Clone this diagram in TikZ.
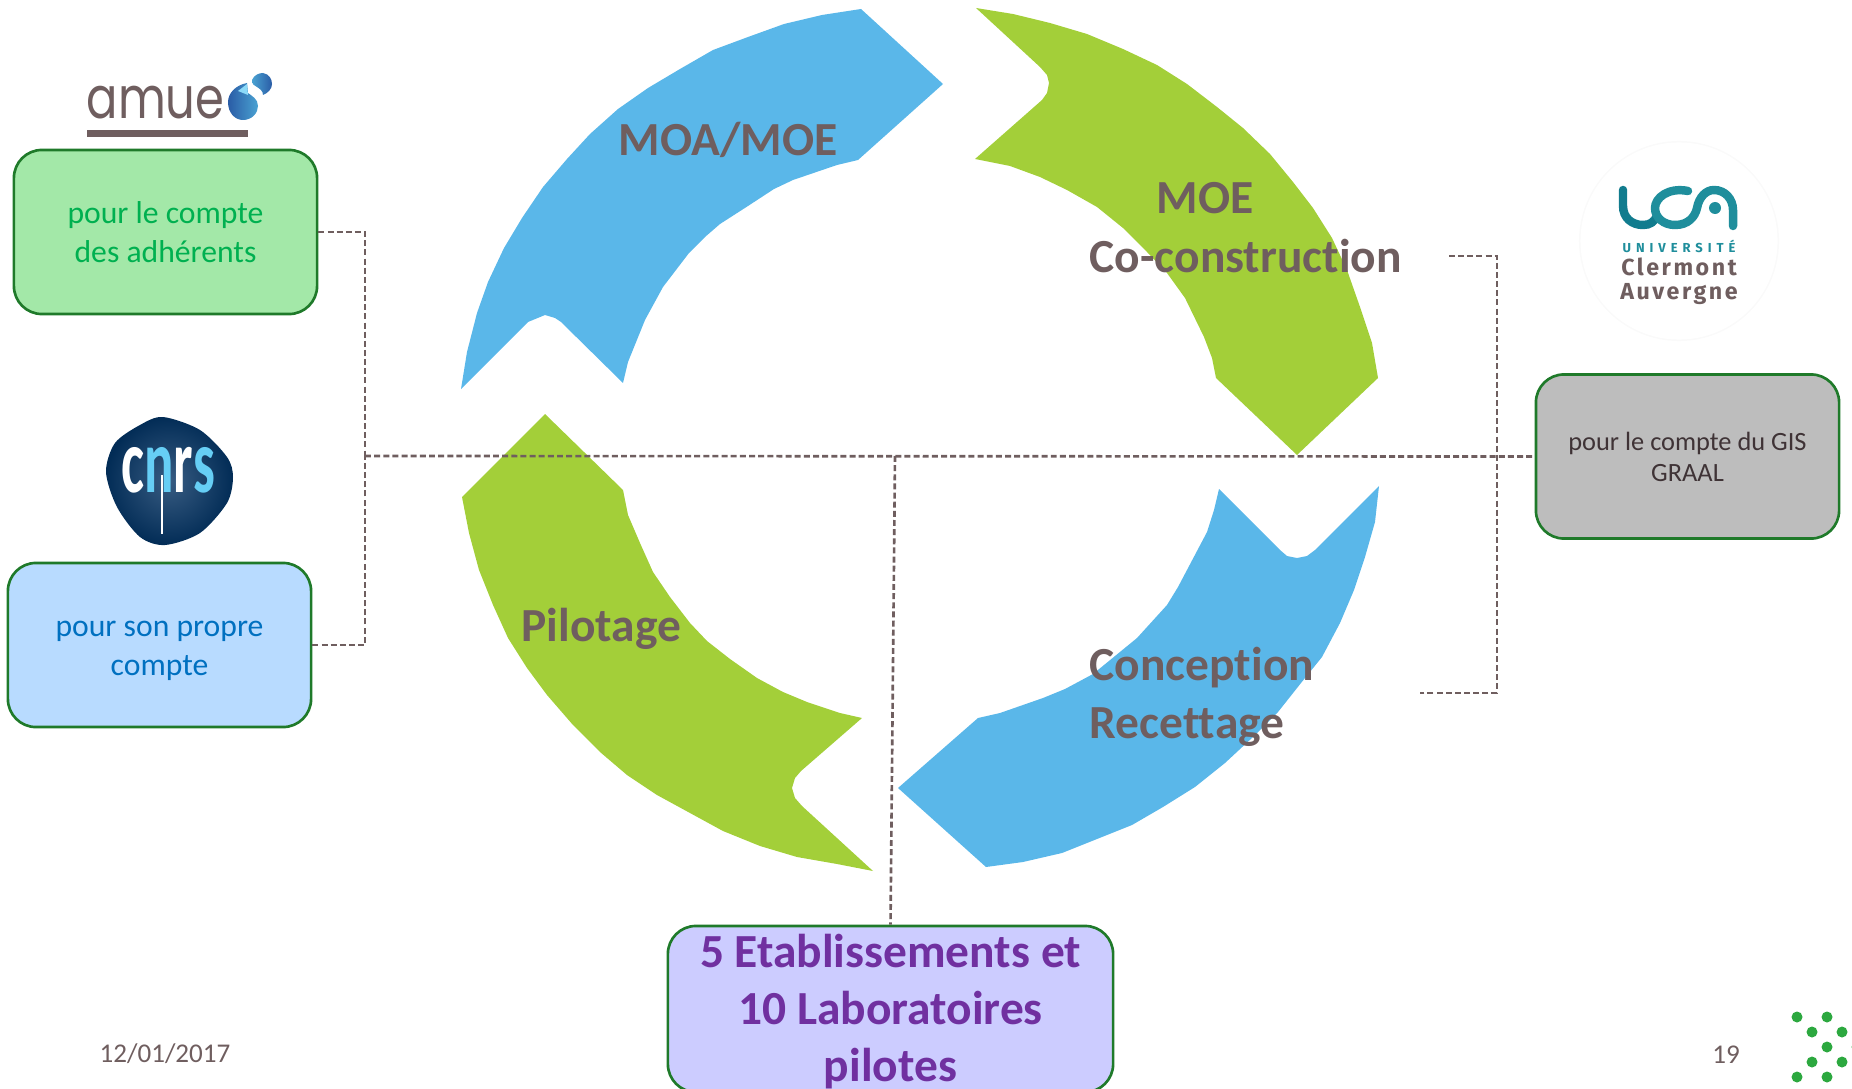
\documentclass[tikz,border=0pt]{standalone}
\usepackage{fontspec}
\setmainfont[Ligatures=NoCommon]{Carlito}
\newfontfamily\logofont{Poppins}
\newfontfamily\ucafont[LetterSpace=11]{Fira Sans}
\newfontfamily\ucawide[LetterSpace=38]{Fira Sans}
\definecolor{arrowblue}{HTML}{5AB7E9}
\definecolor{arrowgreen}{HTML}{A3CF39}
\definecolor{labelgrey}{HTML}{6F5E5F}
\definecolor{boxgreen}{HTML}{1F7A2A}
\definecolor{ucateal}{HTML}{1F8E9C}
\definecolor{ucadark}{HTML}{117C8E}
\definecolor{amuedark}{HTML}{2A5CA6}
\definecolor{amuelight}{HTML}{4AA2D2}
\definecolor{dotgreen}{HTML}{2CA83F}
\begin{document}
\begin{tikzpicture}[
x=0.01cm,y=-0.01cm,
blockbox/.style={draw=boxgreen,line width=0.75pt,rounded corners=0.28cm,align=center,minimum width=3.03cm,minimum height=1.64cm,inner sep=0pt},
phaselabel/.style={anchor=base west,inner sep=0pt,text=labelgrey,font=\fontsize{13.5}{16.6}\selectfont\bfseries,align=left},
link/.style={draw=labelgrey,line width=0.75pt,dash pattern=on 1.7pt off 0.9pt},
footer/.style={inner sep=0pt,text=labelgrey,font=\fontsize{7.7}{9}\selectfont}
]
\useasboundingbox (0,0) rectangle (1852,1088);

% the four arrows of the cycle
\fill[arrowblue] (461,389) -- (467,352) -- (477,313) -- (488,282) -- (504,248) -- (522,218) -- (543,187) -- (567,159) -- (590,134) -- (618,109) -- (648,88) -- (680,69) -- (713,50) -- (748,37) -- (784,24) -- (822,15) -- (861,9) -- (943,84) -- (858,160) -- (837,165) -- (793,180) -- (774,189) -- (748,206) -- (720,224) -- (705,237) -- (689,253) -- (663,287) -- (645,320) -- (628,362) -- (623,383) -- (561,322) -- (555,318) -- (545,315) -- (528,322) -- cycle;
\fill[arrowgreen] (976,8) -- (1013,14) -- (1050,23) -- (1087,34) -- (1123,49) -- (1157,65) -- (1187,84) -- (1217,107) -- (1243,128) -- (1270,154) -- (1293,182) -- (1313,208) -- (1332,238) -- (1347,270) -- (1360,307) -- (1372,343) -- (1378,378) -- (1297,455) -- (1216,378) -- (1212,358) -- (1204,337) -- (1185,298) -- (1167,273) -- (1147,252) -- (1123,228) -- (1097,207) -- (1067,190) -- (1040,177) -- (1010,166) -- (975,159) -- (1042,100) -- (1047,93) -- (1049,83) -- (1047,75) -- (1040,67) -- cycle;
\fill[arrowgreen] (545,414) -- (623,490) -- (628,515) -- (640,543) -- (653,572) -- (670,597) -- (690,623) -- (707,641) -- (730,659) -- (757,678) -- (783,692) -- (807,702) -- (840,713) -- (862,718) -- (801,771) -- (795,778) -- (792,788) -- (795,798) -- (802,806) -- (873,871) -- (837,864) -- (797,857) -- (760,846) -- (723,831) -- (690,813) -- (657,795) -- (627,775) -- (600,752) -- (573,725) -- (547,695) -- (527,668) -- (508,638) -- (493,605) -- (479,570) -- (469,533) -- (462,497) -- cycle;
\fill[arrowblue] (1219,489) -- (1280,550) -- (1287,556) -- (1297,558) -- (1307,556) -- (1315,550) -- (1379,486) -- (1375,522) -- (1365,557) -- (1354,590) -- (1340,623) -- (1322,657) -- (1301,683) -- (1278,712) -- (1253,737) -- (1225,763) -- (1195,787) -- (1163,807) -- (1132,825) -- (1097,839) -- (1062,853) -- (1023,862) -- (986,867) -- (898,788) -- (978,718) -- (1000,713) -- (1043,698) -- (1065,689) -- (1093,674) -- (1137,638) -- (1167,605) -- (1178,587) -- (1207,532) -- (1214,510) -- cycle;

% phase labels
\node[phaselabel] (moa) at (618,156) {MOA/MOE};
\node[phaselabel] (moe) at (1156,213) {MOE};
\node[phaselabel] (coco) at (1089,272) {Co-construction};
\node[phaselabel] (pilot) at (521,641) {Pilotage};
\node[phaselabel] (conc) at (1089,680) {Conception};
\node[phaselabel] (recet) at (1089,738) {Recettage};

% boxes
\node[blockbox,fill={rgb,255:red,163;green,232;blue,168},text={rgb,255:red,0;green,176;blue,80},font=\fontsize{9}{11.2}\selectfont] (adher) at (165.5,232) {pour le compte\\des adhérents};
\node[blockbox,fill={rgb,255:red,184;green,219;blue,255},text={rgb,255:red,0;green,112;blue,192},font=\fontsize{9}{11.2}\selectfont] (propre) at (159.5,645) {\rule{0pt}{7.6pt}pour son propre\\compte};
\node[blockbox,fill={rgb,255:red,189;green,189;blue,189},text={rgb,255:red,63;green,51;blue,54},font=\fontsize{7.5}{9}\selectfont] (gis) at (1687.5,456.5) {\rule{0pt}{5.4pt}pour le compte du GIS\\GRAAL};
\node[blockbox,fill={rgb,255:red,204;green,204;blue,255},text={rgb,255:red,112;green,48;blue,160},minimum width=4.45cm,minimum height=1.66cm,font=\fontsize{13.5}{16.3}\selectfont\bfseries] (etab) at (890.5,1009) {\rule{0pt}{11pt}5 Etablissements et\\10 Laboratoires\\pilotes};

% dashed connectors
\coordinate (hub) at (365,456);
\coordinate (drop) at (895,456);
\coordinate (moeend) at (1449,256);
\coordinate (recend) at (1420,693);
\coordinate (gishub) at (1497,456);
\draw[link] (adher.east) -| (hub);
\draw[link] (propre.east) -| (hub);
\draw[link] (hub) -- (gis.west);
\draw[link] (drop) -- (etab.north);
\draw[link] (moeend) -| (gishub) |- (recend);

% amue logo
\node[inner sep=0pt,anchor=base west,text=labelgrey,font=\logofont\fontsize{16.5}{18}\selectfont] (amue) at (86,119) {\scalebox{0.8}[1]{amue}};
\fill[labelgrey] (87,130) rectangle (248,137);
\shade[left color=amuedark,right color=amuelight] (247,83) .. controls (236,85) and (228,93) .. (228,102) .. controls (228,113) and (235,120) .. (243,120) .. controls (252,120) and (258,113) .. (258,106) .. controls (258,99) and (252,96) .. (248,93) -- cycle;
\fill[cyan!45!white] (247,84) -- (238,91) -- (248,95) -- cycle;
\shade[left color=amuelight,right color=amuedark] (252,80) .. controls (254,75) and (259,73) .. (263,73) .. controls (269,74) and (272,79) .. (272,84) .. controls (272,89) and (268,93) .. (263,95) .. controls (263,91) and (260,89) .. (257,87) .. controls (254,86) and (252,84) .. (252,80) -- cycle;

% cnrs logo
\shade[inner color={rgb,255:red,56;green,92;blue,130},outer color={rgb,255:red,2;green,44;blue,86}] plot[smooth cycle] coordinates {(163,417) (200,430) (227,457) (233,477) (227,503) (200,533) (165,545) (140,537) (117,507) (106,472) (115,443) (140,425)};
\node[inner sep=0pt,anchor=base,font=\fontsize{26}{28}\selectfont\bfseries] (cnrs) at (168,492) {\scalebox{0.6}[1]{\textcolor{white}{c}\textcolor{cyan!60!white}{n}\textcolor{white}{r}\textcolor{cyan!60!white}{s}}};
\draw[white,line width=0.5pt] (162,475) -- (162,534);

% uca logo
\fill[black!2] (1679,241) circle (1cm);
\fill[white] (1679,241) circle (0.985cm);
\draw[ucadark,line width=2.4pt,line cap=round] (1623,190) -- (1623,206) .. controls (1623,218) and (1632,225) .. (1643,225) .. controls (1650,225) and (1654,222) .. (1657,216);
\draw[ucateal,line width=2.4pt,line cap=round] (1688,191) .. controls (1668,187) and (1655,198) .. (1655,208) .. controls (1655,218) and (1664,225) .. (1675,225) .. controls (1688,225) and (1695,217) .. (1697,208) .. controls (1699,197) and (1706,190) .. (1714,190) .. controls (1725,190) and (1733,199) .. (1733,210) -- (1733,226);
\fill[ucateal] (1715,208) circle (0.06cm);
\node[inner sep=0pt,text=ucateal,font=\ucawide\fontsize{3.7}{4}\selectfont\bfseries] (univ) at (1679,246) {UNIVERSITÉ};
\node[inner sep=0pt,text=labelgrey,font=\ucafont\fontsize{6.6}{7.2}\selectfont\bfseries,anchor=base] (clerm) at (1679,275) {Clermont};
\node[inner sep=0pt,text=labelgrey,font=\ucafont\fontsize{6.6}{7.2}\selectfont\bfseries,anchor=base] (auv) at (1679,299) {Auvergne};

% footer
\node[footer] (date) at (165,1054) {12/01/2017};
\node[footer] (page) at (1726,1055) {19};
\foreach \dotx/\doty in {1797/1017,1827/1017,1812/1032,1842/1032,1827/1047,1857/1047,1812/1062,1842/1062,1797/1077,1827/1077}
  \fill[dotgreen] (\dotx,\doty) circle (0.055cm);
\end{tikzpicture}
\end{document}
